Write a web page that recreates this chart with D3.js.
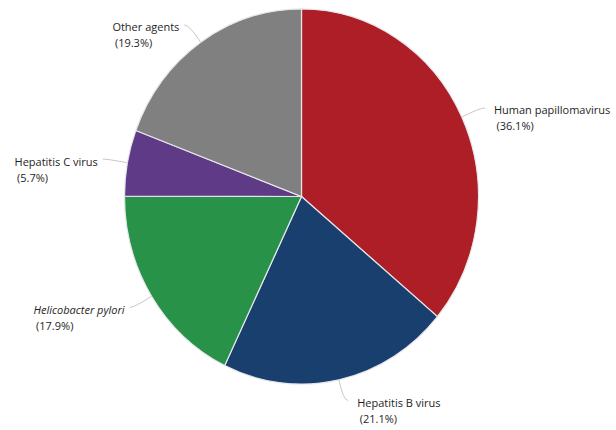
<!DOCTYPE html>
<html><head><meta charset="utf-8">
<script src="https://cdn.jsdelivr.net/npm/d3@7"></script>
<style>
html,body{margin:0;padding:0;background:#fff;}
svg{display:block;}
text{font-family:"Open Sans",sans-serif;font-size:11px;fill:#1e1e1e;}
</style></head>
<body>
<svg id="chart" width="616" height="430"></svg>
<script>
const categories = ["Human papillomavirus","Hepatitis B virus","Helicobacter pylori","Hepatitis C virus","Other agents"];
const values = [36.1, 21.1, 17.9, 5.7, 19.3];
const valueLabels = ["(36.1%)","(21.1%)","(17.9%)","(5.7%)","(19.3%)"];
const colors = ["#ae1e27","#193f6e","#289249","#5f3a86","#808080"];
const italicCats = ["Helicobacter pylori"];

const svg = d3.select("#chart");
const cx = 301.5, cy = 196.5, r = 177, sy = 1.06;

const pie = d3.pie().sort(null).value(d => d);
const arcs = pie(values);
const arc = d3.arc().innerRadius(0).outerRadius(r);

const g = svg.append("g").attr("transform", `translate(${cx},${cy}) scale(1,${sy})`);
g.selectAll("path").data(arcs).enter().append("path")
  .attr("d", arc)
  .attr("fill", (d,i) => colors[i])
  .attr("stroke", "#e6e6ea")
  .attr("stroke-width", 1.2)
  .attr("vector-effect", "non-scaling-stroke");

function pt(a, rad){ return [cx + rad*Math.sin(a), cy - rad*sy*Math.cos(a)]; }

const lab = svg.append("g");
arcs.forEach((d,i) => {
  const a = (d.startAngle + d.endAngle)/2;
  const p = pt(a, r);
  const c = pt(a, r + 20);
  const right = Math.sin(a) > 0;
  const e = [c[0] + (right ? 5 : -5), c[1]];
  lab.append("path")
    .attr("d", `M${p[0]},${p[1]} Q${c[0]},${c[1]} ${e[0]},${e[1]}`)
    .attr("fill","none").attr("stroke","#c8c8c8").attr("stroke-width",1);
  const t1 = lab.append("text").attr("y", e[1] + 6.5).text(categories[i])
    .style("font-style", italicCats.includes(categories[i]) ? "italic" : "normal");
  const t2 = lab.append("text").attr("y", e[1] + 22.5).text(valueLabels[i]);
  let x0;
  if (right) x0 = e[0] + 9;
  else x0 = e[0] - 5 - t1.node().getComputedTextLength();
  t1.attr("x", x0);
  t2.attr("x", x0 + 2.5);
});
</script>
</body></html>
